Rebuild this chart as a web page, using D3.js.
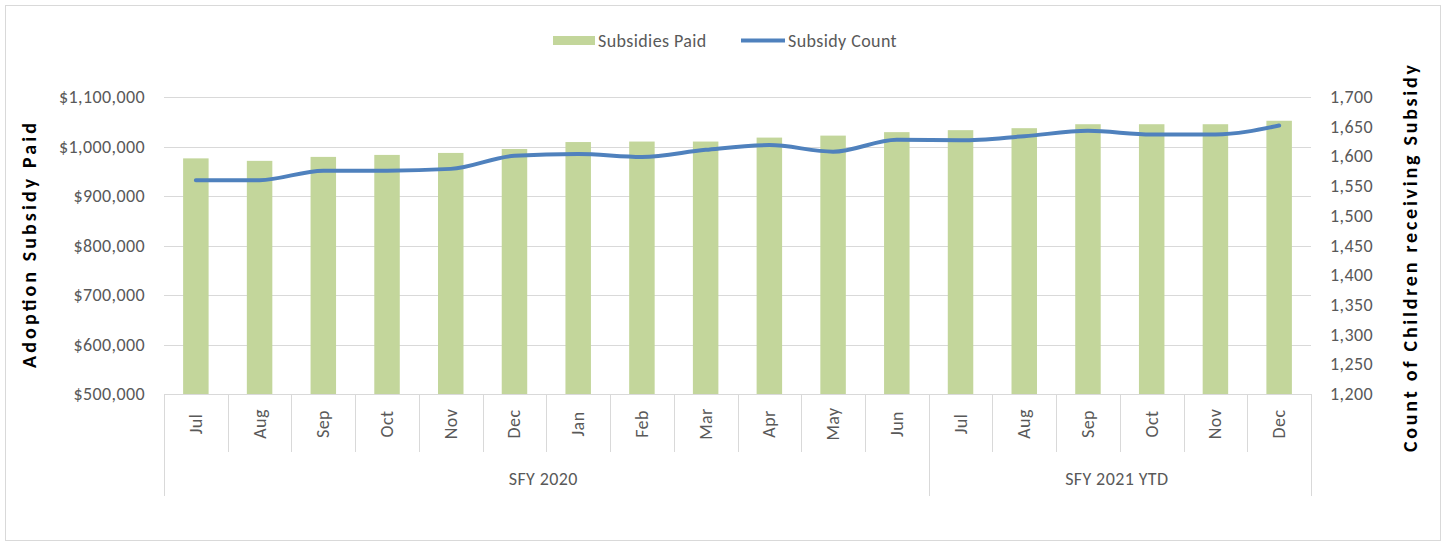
<!DOCTYPE html>
<html>
<head>
<script src="https://d3js.org/d3.v7.min.js"></script>
<style>
  body { margin: 0; background: #fff; }
  svg { font-family: Carlito, "Liberation Sans", sans-serif; }
  .tick-label { fill: #595959; font-size: 18px; letter-spacing: 0.4px; }
  .axis-title { fill: #000; font-size: 20px; font-weight: bold; }
</style>
</head>
<body>
<svg id="chart" width="1447" height="546"></svg>
<script>
// data
const months = ["Jul","Aug","Sep","Oct","Nov","Dec","Jan","Feb","Mar","Apr","May","Jun",
                "Jul","Aug","Sep","Oct","Nov","Dec"];
const groups = [{name: "SFY 2020", count: 12}, {name: "SFY 2021 YTD", count: 6}];
const subsidiesPaid = [976000, 971000, 979000, 983000, 987000, 995000, 1009000, 1010000, 1010000,
                       1018000, 1022000, 1029000, 1033000, 1037000, 1045000, 1045000, 1045000, 1052000];
const subsidyCount = [1560, 1560, 1576, 1576, 1579, 1601, 1604, 1599, 1611, 1619, 1608, 1628,
                      1627, 1634, 1643, 1637, 1637, 1652];
const leftTicks = [500000, 600000, 700000, 800000, 900000, 1000000, 1100000];
const rightTicks = [1200, 1250, 1300, 1350, 1400, 1450, 1500, 1550, 1600, 1650, 1700];

const svg = d3.select("#chart");
const plot = {left: 164, right: 1311, top: 97, bottom: 394};

// chart border
svg.append("rect")
  .attr("x", 5.5).attr("y", 5.5)
  .attr("width", 1435).attr("height", 535)
  .attr("fill", "none").attr("stroke", "#d9d9d9");

const idx = months.map((d, i) => i);
const x = d3.scaleBand().domain(idx).range([plot.left, plot.right]).paddingInner(0.6).paddingOuter(0.3);
const xStep = (plot.right - plot.left) / months.length;
const yL = d3.scaleLinear().domain([500000, 1100000]).range([plot.bottom, plot.top]);
const yR = d3.scaleLinear().domain([1200, 1700]).range([plot.bottom, plot.top]);

// gridlines
svg.append("g").selectAll("line")
  .data(leftTicks.slice(1))
  .join("line")
  .attr("x1", plot.left).attr("x2", plot.right)
  .attr("y1", d => Math.round(yL(d)) + 0.5).attr("y2", d => Math.round(yL(d)) + 0.5)
  .attr("stroke", "#d9d9d9");

// bars
svg.append("g").selectAll("rect")
  .data(subsidiesPaid)
  .join("rect")
  .attr("x", (d, i) => x(i))
  .attr("width", x.bandwidth())
  .attr("y", d => yL(d))
  .attr("height", d => plot.bottom - yL(d))
  .attr("fill", "#c3d69b");

// category axis
const cat = svg.append("g").attr("stroke", "#d9d9d9");
cat.append("line")
  .attr("x1", plot.left).attr("x2", plot.right)
  .attr("y1", plot.bottom + 0.5).attr("y2", plot.bottom + 0.5);
const groupEdges = [0];
groups.forEach(g => groupEdges.push(groupEdges[groupEdges.length - 1] + g.count));
d3.range(months.length + 1).forEach(i => {
  const isGroup = groupEdges.includes(i);
  cat.append("line")
    .attr("x1", Math.round(plot.left + i * xStep) + 0.5)
    .attr("x2", Math.round(plot.left + i * xStep) + 0.5)
    .attr("y1", plot.bottom)
    .attr("y2", isGroup ? 496 : 452);
});

svg.append("g").selectAll("text")
  .data(months)
  .join("text")
  .attr("class", "tick-label")
  .attr("transform", (d, i) => `translate(${x(i) + x.bandwidth() / 2 + 6},424) rotate(-90)`)
  .attr("text-anchor", "middle")
  .text(d => d);

svg.append("g").selectAll("text")
  .data(groups)
  .join("text")
  .attr("class", "tick-label")
  .attr("x", (g, i) => plot.left + (groupEdges[i] + g.count / 2) * xStep - 3)
  .attr("y", 485)
  .attr("text-anchor", "middle")
  .text(g => g.name);

// left axis labels
const fmtL = d => "$" + d3.format(",")(d);
svg.append("g").selectAll("text")
  .data(leftTicks)
  .join("text")
  .attr("class", "tick-label")
  .attr("x", 145)
  .attr("y", d => yL(d) + 6)
  .attr("text-anchor", "end")
  .text(fmtL);

// right axis labels
svg.append("g").selectAll("text")
  .data(rightTicks)
  .join("text")
  .attr("class", "tick-label")
  .attr("x", 1330)
  .attr("y", d => yR(d) + 6)
  .text(d3.format(","));

// line
const line = d3.line()
  .x((d, i) => x(i) + x.bandwidth() / 2)
  .y(d => yR(d))
  .curve(d3.curveMonotoneX);
svg.append("path")
  .datum(subsidyCount)
  .attr("d", line)
  .attr("fill", "none")
  .attr("stroke", "#4f81bd")
  .attr("stroke-width", 4)
  .attr("stroke-linecap", "round");

// axis titles
svg.append("text")
  .attr("class", "axis-title")
  .attr("transform", "translate(36,245.5) rotate(-90)")
  .attr("text-anchor", "middle")
  .attr("textLength", 245)
  .attr("lengthAdjust", "spacing")
  .text("Adoption  Subsidy  Paid");
svg.append("text")
  .attr("class", "axis-title")
  .attr("transform", "translate(1417,258.5) rotate(-90)")
  .attr("text-anchor", "middle")
  .attr("textLength", 387)
  .attr("lengthAdjust", "spacing")
  .text("Count  of  Children  receiving  Subsidy");

// legend
const legend = svg.append("g");
legend.append("rect")
  .attr("x", 553).attr("y", 36).attr("width", 42).attr("height", 9)
  .attr("fill", "#c3d69b");
legend.append("text")
  .attr("class", "tick-label")
  .attr("x", 598).attr("y", 47)
  .text("Subsidies Paid");
legend.append("line")
  .attr("x1", 741).attr("x2", 785).attr("y1", 40.5).attr("y2", 40.5)
  .attr("stroke", "#4f81bd").attr("stroke-width", 4);
legend.append("text")
  .attr("class", "tick-label")
  .attr("x", 788).attr("y", 47)
  .text("Subsidy Count");
</script>
</body>
</html>
